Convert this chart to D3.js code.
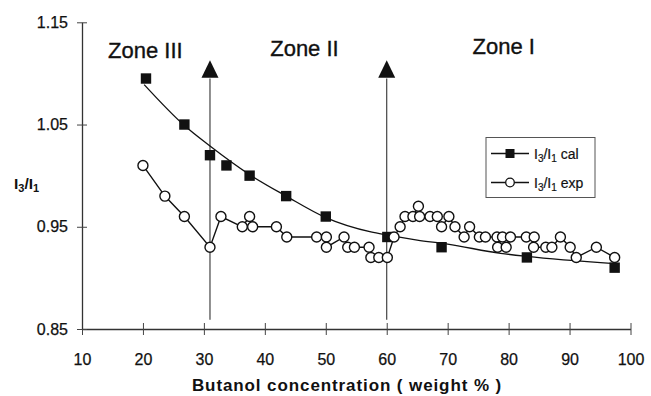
<!DOCTYPE html>
<html>
<head>
<meta charset="utf-8">
<script src="https://cdn.jsdelivr.net/npm/d3@7"></script>
<style>
  html, body { margin: 0; padding: 0; background: #fff; }
  svg { display: block; font-family: "Liberation Sans", Arial, sans-serif; }
</style>
</head>
<body>
<div id="chart"></div>
<script>
// ===== data =====
const xTicks = [10, 20, 30, 40, 50, 60, 70, 80, 90, 100];
const yTicks = [0.85, 0.95, 1.05, 1.15];

// I3/I1 cal (squares)
const calX = [20.5, 26.8, 31.0, 33.7, 37.5, 43.5, 50.0, 60.1, 69.0, 83.0, 97.4];
const calY = [1.095, 1.05, 1.02, 1.01, 1.00, 0.98, 0.96, 0.94, 0.93, 0.92, 0.91];

// smooth curve drawn through the cal points
const fitX = [20.2, 26.8, 31.0, 37.5, 43.5, 50.0, 57.4, 60.0, 65.0, 70.0, 78.7, 83.0, 97.4];
const fitY = [1.089, 1.049, 1.029, 1.001, 0.980, 0.959, 0.945, 0.942, 0.937, 0.933, 0.924, 0.921, 0.914];

// I3/I1 exp (open circles), in drawing order
const expX = [20.0, 23.6, 26.8, 31.0, 32.8, 36.3, 37.5, 38.0, 41.9, 43.6, 48.5, 50.1, 50.1,
              53.0, 53.6, 54.7, 57.1, 57.4, 58.7, 60.1, 61.2, 62.2, 63.0, 64.3, 65.2, 65.4,
              67.1, 68.3, 69.0, 70.2, 71.2, 72.7, 73.6, 75.2, 76.2, 78.1, 78.2, 79.0, 79.6,
              80.3, 82.9, 84.2, 84.1, 86.1, 87.1, 88.5, 90.1, 91.1, 94.4, 97.4];
const expY = [1.01, 0.98, 0.96, 0.93, 0.96, 0.95, 0.96, 0.95, 0.95, 0.94, 0.94, 0.94, 0.93,
              0.94, 0.93, 0.93, 0.93, 0.92, 0.92, 0.92, 0.94, 0.95, 0.96, 0.96, 0.97, 0.96,
              0.96, 0.96, 0.95, 0.96, 0.95, 0.94, 0.95, 0.94, 0.94, 0.94, 0.93, 0.94, 0.93,
              0.94, 0.94, 0.94, 0.93, 0.93, 0.93, 0.94, 0.93, 0.92, 0.93, 0.92];

// zone boundaries (arrows) and zone labels
const arrowX = [31, 60];
const zoneLabels = ['Zone III', 'Zone II', 'Zone I'];
const zoneX = [20.4, 46.5, 79.2];
const zoneY = [1.115, 1.117, 1.119];

// ===== layout =====
const width = 651, height = 396;
const svg = d3.select('#chart').append('svg')
  .attr('width', width)
  .attr('height', height);

const x = d3.scaleLinear().domain([10, 100]).range([82, 630.5]);
const y = d3.scaleLinear().domain([0.85, 1.15]).range([329, 22.3]);

const ink = '#111';
const font = '"Liberation Sans", Arial, sans-serif';

// x axis
const xAxis = svg.append('g')
  .attr('transform', `translate(0,${y(0.85)})`)
  .call(d3.axisBottom(x).tickValues(xTicks).tickSize(6).tickSizeOuter(0).tickFormat(d3.format('d')));
xAxis.select('.domain').attr('stroke', '#333').attr('stroke-width', 1.3);
xAxis.selectAll('.tick line').attr('y1', -6).attr('stroke', '#444');
xAxis.selectAll('.tick text')
  .attr('y', 36).attr('dy', 0)
  .attr('font-size', 16).attr('fill', ink)
  .attr('stroke', ink).attr('stroke-width', 0.25)
  .attr('font-family', font);

// y axis
const yAxis = svg.append('g')
  .attr('transform', `translate(${x(10)},0)`)
  .call(d3.axisLeft(y).tickValues(yTicks).tickSize(5).tickSizeOuter(0).tickPadding(9).tickFormat(d3.format('.2f')));
yAxis.select('.domain').attr('stroke', '#333').attr('stroke-width', 1.3);
yAxis.selectAll('.tick line').attr('x1', -5).attr('x2', 5).attr('stroke', '#444');
yAxis.selectAll('.tick text')
  .attr('font-size', 16).attr('fill', ink)
  .attr('stroke', ink).attr('stroke-width', 0.25)
  .attr('font-family', font);

// axis titles
svg.append('text')
  .attr('x', 347).attr('y', 391)
  .attr('text-anchor', 'middle')
  .attr('font-size', 17).attr('font-weight', 'bold')
  .attr('letter-spacing', 0.9)
  .attr('fill', ink)
  .text('Butanol concentration ( weight % )');

const yLab = svg.append('text')
  .attr('x', 14).attr('y', 188.5)
  .attr('font-size', 15.5).attr('font-weight', 'bold').attr('fill', ink);
yLab.append('tspan').text('I');
yLab.append('tspan').attr('font-size', 11).attr('dy', 3).text('3');
yLab.append('tspan').attr('dy', -3).text('/I');
yLab.append('tspan').attr('font-size', 11).attr('dy', 3).text('1');

// zone arrows
const arrows = svg.append('g');
arrows.selectAll('line')
  .data(arrowX)
  .join('line')
  .attr('x1', d => x(d)).attr('x2', d => x(d))
  .attr('y1', y(0.859)).attr('y2', y(1.095))
  .attr('stroke', '#333').attr('stroke-width', 1.1);
arrows.selectAll('path')
  .data(arrowX)
  .join('path')
  .attr('d', d => {
    const cx = x(d), tip = y(1.113), base = tip + 17.5;
    return `M${cx},${tip}L${cx + 8.5},${base}L${cx - 8.5},${base}Z`;
  })
  .attr('fill', ink);

// zone labels
svg.append('g').selectAll('text')
  .data(zoneLabels)
  .join('text')
  .attr('x', (d, i) => x(zoneX[i]))
  .attr('y', (d, i) => y(zoneY[i]))
  .attr('text-anchor', 'middle')
  .attr('font-size', 22).attr('fill', ink)
  .attr('stroke', ink).attr('stroke-width', 0.35)
  .text(d => d);

// cal curve
const fitPts = fitX.map((d, i) => [d, fitY[i]]);
svg.append('path')
  .datum(fitPts)
  .attr('fill', 'none')
  .attr('stroke', ink).attr('stroke-width', 1.3)
  .attr('d', d3.line().x(d => x(d[0])).y(d => y(d[1])).curve(d3.curveMonotoneX));

// cal squares
svg.append('g').selectAll('rect')
  .data(calX.map((d, i) => [d, calY[i]]))
  .join('rect')
  .attr('x', d => x(d[0]) - 5.2).attr('y', d => y(d[1]) - 5.2)
  .attr('width', 10.4).attr('height', 10.4)
  .attr('fill', ink);

// exp line + circles
const expPts = expX.map((d, i) => [d, expY[i]]);
svg.append('path')
  .datum(expPts)
  .attr('fill', 'none')
  .attr('stroke', ink).attr('stroke-width', 1.4)
  .attr('d', d3.line().x(d => x(d[0])).y(d => y(d[1])));
svg.append('g').selectAll('circle')
  .data(expPts)
  .join('circle')
  .attr('cx', d => x(d[0])).attr('cy', d => y(d[1]))
  .attr('r', 5)
  .attr('fill', '#fff')
  .attr('stroke', ink).attr('stroke-width', 1.4);

// legend
const lg = svg.append('g').attr('transform', 'translate(486,137.5)');
lg.append('rect')
  .attr('width', 109).attr('height', 60)
  .attr('fill', '#fff').attr('stroke', '#555').attr('stroke-width', 1);
const legendItems = [
  { name: 'cal', y: 16 },
  { name: 'exp', y: 45 }
];
legendItems.forEach((it, i) => {
  lg.append('line')
    .attr('x1', 5).attr('x2', 43).attr('y1', it.y).attr('y2', it.y)
    .attr('stroke', ink).attr('stroke-width', 1.3);
  if (i === 0) {
    lg.append('rect').attr('x', 24 - 4.5).attr('y', it.y - 4.5)
      .attr('width', 9).attr('height', 9).attr('fill', ink);
  } else {
    lg.append('circle').attr('cx', 24).attr('cy', it.y).attr('r', 4.3)
      .attr('fill', '#fff').attr('stroke', ink).attr('stroke-width', 1.3);
  }
  const t = lg.append('text')
    .attr('x', 48).attr('y', it.y + 5.2)
    .attr('font-size', 14).attr('fill', ink)
    .attr('stroke', ink).attr('stroke-width', 0.2);
  t.append('tspan').text('I');
  t.append('tspan').attr('font-size', 10).attr('dy', 3).text('3');
  t.append('tspan').attr('dy', -3).text('/I');
  t.append('tspan').attr('font-size', 10).attr('dy', 3).text('1');
  t.append('tspan').attr('dy', -3).text(' ' + it.name);
});
</script>
</body>
</html>
